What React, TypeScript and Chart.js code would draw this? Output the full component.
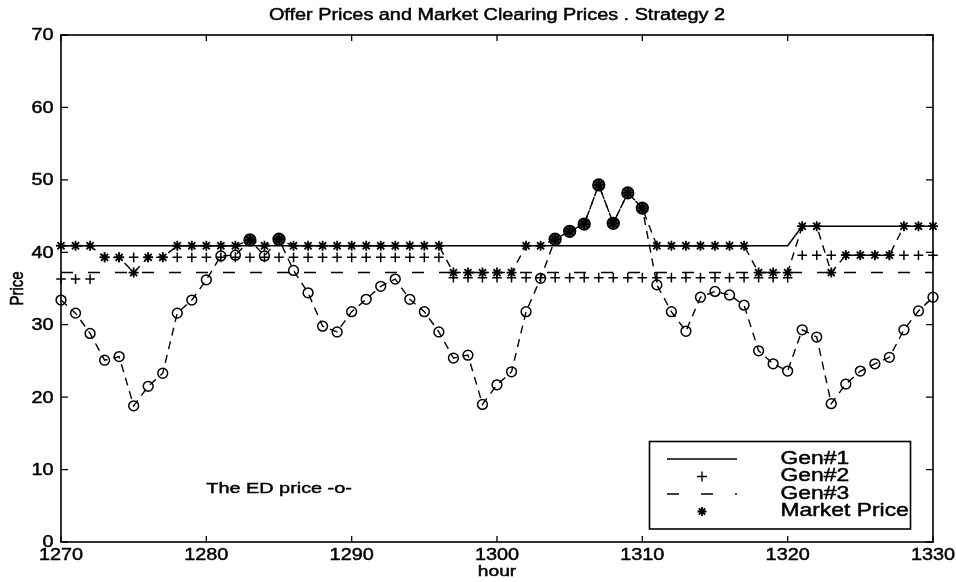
import React, { useEffect, useRef } from 'react';
import { Chart, registerables } from 'chart.js';

Chart.register(...registerables);

// Hours on the x axis
const hours = [
  1270, 1271, 1272, 1273, 1274, 1275, 1276, 1277, 1278, 1279,
  1280, 1281, 1282, 1283, 1284, 1285, 1286, 1287, 1288, 1289,
  1290, 1291, 1292, 1293, 1294, 1295, 1296, 1297, 1298, 1299,
  1300, 1301, 1302, 1303, 1304, 1305, 1306, 1307, 1308, 1309,
  1310, 1311, 1312, 1313, 1314, 1315, 1316, 1317, 1318, 1319,
  1320, 1321, 1322, 1323, 1324, 1325, 1326, 1327, 1328, 1329,
  1330,
];

// Economic-dispatch price, -o-
const edPrice = [
  33.4, 31.6, 28.8, 25.1, 25.6, 18.8, 21.5, 23.3, 31.6, 33.4,
  36.2, 39.5, 39.6, 41.7, 39.5, 41.8, 37.5, 34.4, 29.8, 29.0,
  31.8, 33.5, 35.3, 36.3, 33.5, 31.8, 29.0, 25.4, 25.8, 19.0,
  21.7, 23.5, 31.8, 36.4, 41.8, 42.9, 43.9, 49.3, 44.0, 48.2,
  46.1, 35.5, 31.8, 29.1, 33.8, 34.6, 34.1, 32.7, 26.4, 24.6,
  23.6, 29.3, 28.3, 19.1, 21.8, 23.6, 24.6, 25.5, 29.3, 31.9,
  33.8,
];

// Market clearing price, *
const marketPrice = [
  40.9, 40.9, 40.9, 39.3, 39.3, 37.2, 39.3, 39.3, 40.9, 40.9,
  40.9, 40.9, 40.9, 41.7, 40.9, 41.8, 40.9, 40.9, 40.9, 40.9,
  40.9, 40.9, 40.9, 40.9, 40.9, 40.9, 40.9, 37.2, 37.2, 37.2,
  37.2, 37.2, 40.9, 40.9, 41.8, 42.9, 43.9, 49.3, 44.0, 48.2,
  46.1, 40.9, 40.9, 40.9, 40.9, 40.9, 40.9, 40.9, 37.2, 37.2,
  37.2, 43.6, 43.6, 37.2, 39.6, 39.6, 39.6, 39.6, 43.6, 43.6,
  43.6,
];

// Offer prices of the three generators
const gen1Offer = [
  40.9, 40.9, 40.9, 40.9, 40.9, 40.9, 40.9, 40.9, 40.9, 40.9,
  40.9, 40.9, 40.9, 40.9, 40.9, 40.9, 40.9, 40.9, 40.9, 40.9,
  40.9, 40.9, 40.9, 40.9, 40.9, 40.9, 40.9, 40.9, 40.9, 40.9,
  40.9, 40.9, 40.9, 40.9, 40.9, 40.9, 40.9, 40.9, 40.9, 40.9,
  40.9, 40.9, 40.9, 40.9, 40.9, 40.9, 40.9, 40.9, 40.9, 40.9,
  40.9, 43.6, 43.6, 43.6, 43.6, 43.6, 43.6, 43.6, 43.6, 43.6,
  43.6,
];

const gen2Offer = [
  36.3, 36.3, 36.3, 39.3, 39.3, 39.3, 39.3, 39.3, 39.3, 39.3,
  39.3, 39.3, 39.3, 39.3, 39.3, 39.3, 39.3, 39.3, 39.3, 39.3,
  39.3, 39.3, 39.3, 39.3, 39.3, 39.3, 39.3, 36.5, 36.5, 36.5,
  36.5, 36.5, 36.5, 36.5, 36.5, 36.5, 36.5, 36.5, 36.5, 36.5,
  36.5, 36.5, 36.5, 36.5, 36.5, 36.5, 36.5, 36.5, 36.5, 36.5,
  36.5, 39.6, 39.6, 39.6, 39.6, 39.6, 39.6, 39.6, 39.6, 39.6,
  39.6,
];

const gen3Offer = [
  37.2, 37.2, 37.2, 37.2, 37.2, 37.2, 37.2, 37.2, 37.2, 37.2,
  37.2, 37.2, 37.2, 37.2, 37.2, 37.2, 37.2, 37.2, 37.2, 37.2,
  37.2, 37.2, 37.2, 37.2, 37.2, 37.2, 37.2, 37.2, 37.2, 37.2,
  37.2, 37.2, 37.2, 37.2, 37.2, 37.2, 37.2, 37.2, 37.2, 37.2,
  37.2, 37.2, 37.2, 37.2, 37.2, 37.2, 37.2, 37.2, 37.2, 37.2,
  37.2, 37.2, 37.2, 37.2, 37.2, 37.2, 37.2, 37.2, 37.2, 37.2,
  37.2,
];

const xTicks = [1270, 1280, 1290, 1300, 1310, 1320, 1330];
const yTicks = [0, 10, 20, 30, 40, 50, 60, 70];

const titleText = 'Offer Prices and Market Clearing Prices . Strategy 2';
const xLabel = 'hour';
const yLabel = 'Price';
const noteText = 'The ED price -o-';
const noteAt = { x: 1280, y: 7.3 };
const legendNames = ['Gen#1', 'Gen#2', 'Gen#3', 'Market Price'];

const FONT = '"Liberation Sans", Arial, Helvetica, sans-serif';
const SX = 1.24; // wide Helvetica look

function drawText(
  ctx: CanvasRenderingContext2D,
  text: string,
  x: number,
  y: number,
  size: number,
  align: 'left' | 'center' | 'right',
  sx: number = SX,
) {
  ctx.save();
  ctx.font = `${size}px ${FONT}`;
  ctx.textBaseline = 'middle';
  ctx.textAlign = 'left';
  ctx.fillStyle = '#000';
  ctx.strokeStyle = '#000';
  ctx.lineWidth = 0.45;
  ctx.setLineDash([]);
  const w = ctx.measureText(text).width * sx;
  let x0 = x;
  if (align === 'center') x0 = x - w / 2;
  else if (align === 'right') x0 = x - w;
  ctx.translate(x0, y);
  ctx.scale(sx, 1);
  ctx.fillText(text, 0, 0);
  ctx.strokeText(text, 0, 0);
  ctx.restore();
}

function drawStar(ctx: CanvasRenderingContext2D, cx: number, cy: number, r: number) {
  ctx.beginPath();
  for (let k = 0; k < 4; k++) {
    const a = (k * Math.PI) / 4;
    ctx.moveTo(cx - r * Math.cos(a), cy - r * Math.sin(a));
    ctx.lineTo(cx + r * Math.cos(a), cy + r * Math.sin(a));
  }
  ctx.stroke();
}

// Boxed axes with inward ticks, labels, title and the legend box
const framePlugin = {
  id: 'frame',
  afterDraw(chart: any) {
    const { ctx, chartArea } = chart;
    const { left, right, top, bottom } = chartArea;
    const xs = chart.scales.x;
    const ys = chart.scales.y;
    ctx.save();
    ctx.strokeStyle = '#000';
    ctx.lineWidth = 1.6;
    ctx.setLineDash([]);
    ctx.strokeRect(left, top, right - left, bottom - top);

    ctx.lineWidth = 1.3;
    ctx.beginPath();
    for (const v of xTicks) {
      const px = xs.getPixelForValue(v);
      ctx.moveTo(px, bottom);
      ctx.lineTo(px, bottom - 6);
      ctx.moveTo(px, top);
      ctx.lineTo(px, top + 6);
    }
    for (const v of yTicks) {
      const py = ys.getPixelForValue(v);
      ctx.moveTo(left, py);
      ctx.lineTo(left + 7, py);
      ctx.moveTo(right, py);
      ctx.lineTo(right - 7, py);
    }
    ctx.stroke();

    for (const v of xTicks) {
      drawText(ctx, String(v), xs.getPixelForValue(v), bottom + 14, 16, 'center');
    }
    for (const v of yTicks) {
      drawText(ctx, String(v), left - 7.5, ys.getPixelForValue(v) + 1, 16, 'right');
    }

    const midX = (left + right) / 2;
    drawText(ctx, titleText, midX, 16, 16, 'center');
    drawText(ctx, xLabel, midX, 572, 15.5, 'center');

    // rotated y label
    ctx.save();
    ctx.font = `15px ${FONT}`;
    ctx.textBaseline = 'middle';
    ctx.textAlign = 'center';
    ctx.fillStyle = '#000';
    ctx.strokeStyle = '#000';
    ctx.lineWidth = 0.45;
    ctx.translate(17.5, (top + bottom) / 2);
    ctx.scale(1.25, 1);
    ctx.rotate(-Math.PI / 2);
    ctx.fillText(yLabel, 0, 0);
    ctx.strokeText(yLabel, 0, 0);
    ctx.restore();

    // note text anchored in data coordinates
    drawText(ctx, noteText, xs.getPixelForValue(noteAt.x), ys.getPixelForValue(noteAt.y), 15.5, 'left', 1.28);

    // legend box
    const lx0 = right - 283.5;
    const lx1 = right - 22.5;
    const ly0 = bottom - 100.5;
    const ly1 = bottom - 13;
    ctx.fillStyle = '#fff';
    ctx.fillRect(lx0, ly0, lx1 - lx0, ly1 - ly0);
    ctx.strokeStyle = '#000';
    ctx.lineWidth = 1.6;
    ctx.strokeRect(lx0, ly0, lx1 - lx0, ly1 - ly0);

    const rowY = [ly0 + 17.5, ly0 + 35, ly0 + 52.5, ly0 + 70];
    const sampleL = lx0 + 17.5;
    const sampleR = lx0 + 87.5;
    const sampleC = (sampleL + sampleR) / 2;
    ctx.lineWidth = 1.4;
    // solid
    ctx.beginPath();
    ctx.moveTo(sampleL, rowY[0]);
    ctx.lineTo(sampleR, rowY[0]);
    ctx.stroke();
    // plus
    ctx.beginPath();
    ctx.moveTo(sampleC - 5, rowY[1]);
    ctx.lineTo(sampleC + 5, rowY[1]);
    ctx.moveTo(sampleC, rowY[1] - 5);
    ctx.lineTo(sampleC, rowY[1] + 5);
    ctx.stroke();
    // dashed
    ctx.setLineDash([12, 22]);
    ctx.beginPath();
    ctx.moveTo(sampleL, rowY[2]);
    ctx.lineTo(sampleR, rowY[2]);
    ctx.stroke();
    ctx.setLineDash([]);
    // asterisk
    ctx.lineWidth = 1.8;
    drawStar(ctx, sampleC, rowY[3], 4.5);

    legendNames.forEach((name, i) => {
      drawText(ctx, name, lx0 + 131, rowY[i], 18, 'left', 1.27);
    });
    ctx.restore();
  },
};

export default function App() {
  const canvasRef = useRef<HTMLCanvasElement | null>(null);

  useEffect(() => {
    const canvas = canvasRef.current;
    if (!canvas) return;
    const pts = (vals: number[]) => hours.map((h, i) => ({ x: h, y: vals[i] }));
    // ED points that coincide with the clearing price are shaded
    const cleared = edPrice.map((v, i) => v === marketPrice[i]);
    const edFill = cleared.map((c) => (c ? '#3a3a3a' : 'rgba(0,0,0,0)'));
    const edRadius = cleared.map((c) => (c ? 5.9 : 4.9));

    const chart = new Chart(canvas, {
      type: 'line',
      data: {
        datasets: [
          {
            label: 'Market Price',
            data: pts(marketPrice),
            order: 0,
            borderColor: '#000',
            borderWidth: 1.4,
            borderDash: [8, 6],
            pointStyle: 'star',
            pointRadius: 5,
            pointBorderWidth: 1.8,
            pointBorderColor: '#000',
            pointBackgroundColor: '#000',
            tension: 0,
            clip: false as any,
          },
          {
            label: 'Gen#2',
            data: pts(gen2Offer),
            order: 1,
            showLine: false,
            pointStyle: 'cross',
            pointRadius: 4.8,
            pointBorderWidth: 1.5,
            pointBorderColor: '#000',
            borderColor: '#000',
            clip: false as any,
          },
          {
            label: 'ED price',
            data: pts(edPrice),
            order: 2,
            borderColor: '#000',
            borderWidth: 1.4,
            borderDash: [8, 6],
            pointStyle: 'circle',
            pointRadius: edRadius,
            pointBorderWidth: 1.5,
            pointBorderColor: '#000',
            pointBackgroundColor: edFill,
            tension: 0,
            clip: false as any,
          },
          {
            label: 'Gen#3',
            data: pts(gen3Offer),
            order: 3,
            borderColor: '#000',
            borderWidth: 1.5,
            borderDash: [12, 15],
            pointRadius: 0,
            tension: 0,
            clip: false as any,
          },
          {
            label: 'Gen#1',
            data: pts(gen1Offer),
            order: 4,
            borderColor: '#000',
            borderWidth: 1.5,
            pointRadius: 0,
            tension: 0,
            clip: false as any,
          },
        ],
      },
      options: {
        responsive: false,
        animation: false,
        devicePixelRatio: 1,
        events: [],
        layout: { padding: { left: 61, right: 23, top: 35, bottom: 40 } },
        scales: {
          x: { type: 'linear', min: 1270, max: 1330, display: false },
          y: { type: 'linear', min: 0, max: 70, display: false },
        },
        plugins: {
          legend: { display: false },
          tooltip: { enabled: false },
        },
      },
      plugins: [framePlugin],
    });
    return () => chart.destroy();
  }, []);

  return (
    <div style={{ position: 'fixed', left: 0, top: 0, width: 956, height: 582, background: '#fff' }}>
      <canvas ref={canvasRef} width={956} height={582} style={{ display: 'block' }} />
    </div>
  );
}
